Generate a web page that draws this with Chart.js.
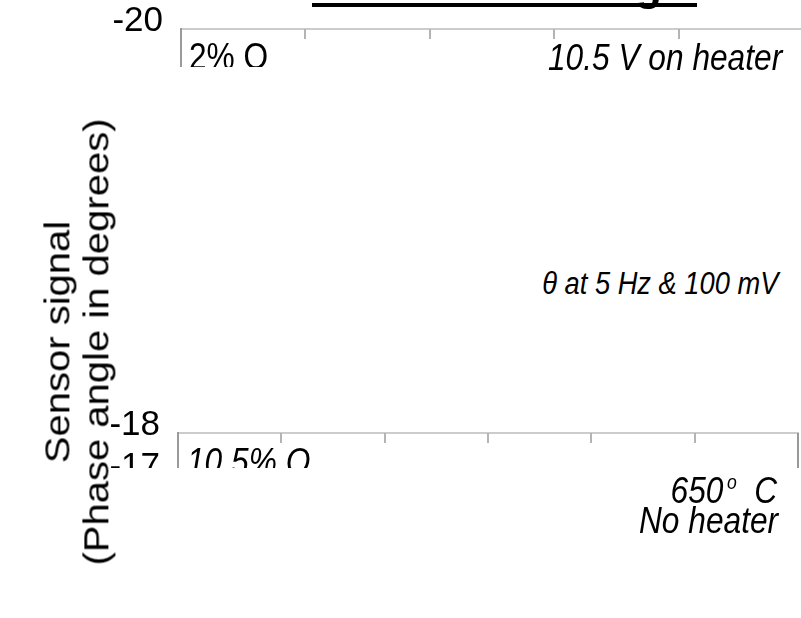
<!DOCTYPE html>
<html>
<head>
<meta charset="utf-8">
<script src="https://cdn.jsdelivr.net/npm/chart.js@4.4.1/dist/chart.umd.min.js"></script>
<style>
  html, body { margin: 0; padding: 0; background: #fff; }
  #page { position: relative; width: 801px; height: 618px; overflow: hidden; font-family: "Liberation Sans", Arial, sans-serif; color: #000; }
  .clip { position: absolute; left: 0; width: 801px; overflow: hidden; }
  .clip canvas { display: block; position: relative; }
  .note { position: absolute; font-style: italic; font-size: 36px; line-height: 36px; white-space: nowrap;
          transform: scaleX(0.88); transform-origin: right top; }
  #ytitle { position: absolute; left: 77px; top: 342px; transform: translate(-50%, -50%) rotate(-90deg) scaleY(0.88);
            font-size: 40px; line-height: 45px; text-align: center; white-space: nowrap; }
</style>
</head>
<body>
<div id="page">
  <div class="clip" style="top:0;height:67px"><canvas id="topChart" width="810" height="260" style="top:-40px"></canvas></div>
  <div class="clip" style="top:380px;height:88px"><canvas id="bottomChart" width="801" height="260"></canvas></div>
  <div id="ytitle">Sensor signal<br>(Phase angle in degrees)</div>
  <div class="note" style="right:19px;top:40px">10.5 V on heater</div>
  <div class="note" style="right:23px;top:268px;font-size:31px;line-height:31px">&theta; at 5 Hz &amp; 100 mV</div>
  <div class="note" style="right:24px;top:464px">650<span style="font-size:20px;vertical-align:14px;margin-left:4px">o</span>&nbsp; C</div>
  <div class="note" style="right:23px;top:503px">No heater</div>
</div>
<script>
// panel ranges (phase angle, degrees) and x divisions
const topYRange = [-20, -18];
const bottomYRange = [-18, -14];
const topXRange = [0, 5];
const bottomXRange = [0, 6];
const panelLabels = ['2% O', '10.5% O'];
const titleText = 'Effect of Heating';

const FONT = '"Liberation Sans", Arial, sans-serif';

// inward tick marks on the top axis, right frame edge, panel label
const framePlugin = {
  id: 'frame',
  afterDraw(chart, args, opts) {
    const { ctx, chartArea: a } = chart;
    const x = chart.scales.x;
    ctx.save();
    ctx.strokeStyle = '#b4b4b4';
    ctx.lineWidth = 2;
    x.ticks.forEach(t => {
      if (t.value <= x.min || t.value >= x.max) return;
      const px = Math.round(x.getPixelForValue(t.value));
      ctx.beginPath();
      ctx.moveTo(px, a.top);
      ctx.lineTo(px, a.top + 10);
      ctx.stroke();
    });
    if (opts.rightEdge) {
      ctx.strokeStyle = '#999';
      ctx.beginPath();
      ctx.moveTo(a.right, a.top);
      ctx.lineTo(a.right, a.bottom);
      ctx.stroke();
    }
    if (opts.label) {
      ctx.save();
      ctx.fillStyle = '#000';
      ctx.font = (opts.italic ? 'italic ' : '') + '36px ' + FONT;
      ctx.textBaseline = 'alphabetic';
      ctx.translate(a.left + opts.labelDx, a.top + opts.labelDy);
      ctx.scale(0.88, 1);
      ctx.fillText(opts.label, 0, 0);
      ctx.restore();
    }
    if (opts.title) {
      const oy = opts.titleY;
      ctx.fillStyle = '#000';
      ctx.font = 'bold 44px ' + FONT;
      ctx.textAlign = 'right';
      ctx.fillText(opts.title, 662, oy);
      ctx.strokeStyle = '#000';
      ctx.lineWidth = 4;
      ctx.beginPath();
      ctx.moveTo(312, oy + 5);
      ctx.lineTo(697, oy + 5);
      ctx.stroke();
    }
    ctx.restore();
  }
};

function panel(id, yRange, xRange, left, top, padRight, padBottom, frameOpts) {
  return new Chart(document.getElementById(id), {
    type: 'scatter',
    data: { datasets: [{ data: [] }] },
    plugins: [framePlugin],
    options: {
      responsive: false,
      animation: false,
      devicePixelRatio: 1,
      layout: { padding: { left: 0, top: 0, right: padRight, bottom: padBottom } },
      plugins: { legend: { display: false }, tooltip: { enabled: false }, frame: frameOpts },
      scales: {
        x: {
          type: 'linear', position: 'top', min: xRange[0], max: xRange[1],
          ticks: { display: false, stepSize: 1 },
          grid: { drawOnChartArea: false, drawTicks: false },
          border: { display: true, color: '#cccccc', width: 2 },
          afterFit: s => { s.height = top; }
        },
        y: {
          type: 'linear', reverse: true, min: yRange[0], max: yRange[1],
          ticks: { stepSize: 1, autoSkip: false, color: '#000', padding: 18, labelOffset: -8,
                   font: { family: FONT, size: 35 } },
          grid: { drawOnChartArea: false, drawTicks: false },
          border: { display: true, color: '#9a9a9a', width: 2 },
          afterFit: s => { s.width = left; }
        }
      }
    }
  });
}

// top canvas sits 40px above the page edge
panel('topChart', topYRange, topXRange, 181, 69, 7, 11,
      { label: panelLabels[0], italic: false, labelDx: 8, labelDy: 40, title: titleText, titleY: 40 });
panel('bottomChart', bottomYRange, bottomXRange, 178, 53, 3, 11,
      { label: panelLabels[1], italic: true, labelDx: 9, labelDy: 41, rightEdge: true });
</script>
</body>
</html>
